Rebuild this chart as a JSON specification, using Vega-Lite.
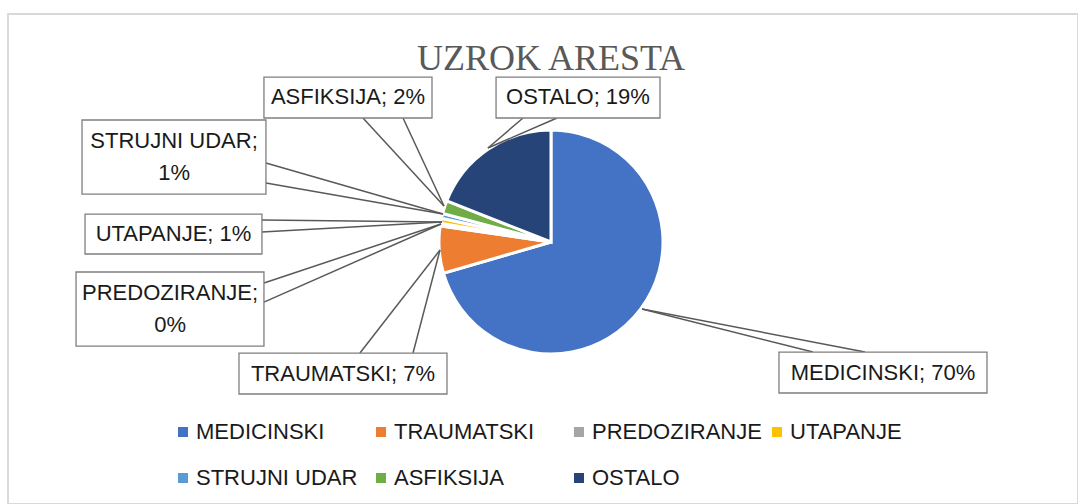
{
  "$schema": "https://vega.github.io/schema/vega-lite/v6.json",
  "width": 1070,
  "height": 490,
  "autosize": {"type": "none"},
  "padding": {"left": 8, "top": 14, "right": 0, "bottom": 0},
  "background": "white",
  "config": {"view": {"stroke": "#d9d9d9", "strokeWidth": 2}},
  "title": {
    "text": "UZROK ARESTA",
    "font": "Liberation Serif",
    "fontSize": 36,
    "fontWeight": "normal",
    "color": "#595959",
    "anchor": "middle",
    "baseline": "alphabetic",
    "offset": -92,
    "dx": 8
  },
  "datasets": {
    "causes": [
      {"k": 1, "cause": "MEDICINSKI", "share": 70.5},
      {"k": 2, "cause": "TRAUMATSKI", "share": 6.8},
      {"k": 3, "cause": "PREDOZIRANJE", "share": 0.4},
      {"k": 4, "cause": "UTAPANJE", "share": 0.7},
      {"k": 5, "cause": "STRUJNI UDAR", "share": 0.7},
      {"k": 6, "cause": "ASFIKSIJA", "share": 1.9},
      {"k": 7, "cause": "OSTALO", "share": 19.0}
    ],
    "labels": [
      {"label": "ASFIKSIJA; 2%", "bx1": -2.586, "bx2": -1.072, "by1": 1.486, "by2": 1.117, "tx": -1.829, "ty": 1.302},
      {"label": "OSTALO; 19%", "bx1": -0.495, "bx2": 0.982, "by1": 1.486, "by2": 1.117, "tx": 0.243, "ty": 1.302},
      {"label": "STRUJNI UDAR;\n1%", "bx1": -4.225, "bx2": -2.568, "by1": 1.099, "by2": 0.432, "tx": -3.396, "ty": 0.91},
      {"label": "UTAPANJE; 1%", "bx1": -4.198, "bx2": -2.604, "by1": 0.252, "by2": -0.108, "tx": -3.401, "ty": 0.072},
      {"label": "PREDOZIRANJE;\n0%", "bx1": -4.279, "bx2": -2.586, "by1": -0.270, "by2": -0.937, "tx": -3.432, "ty": -0.46},
      {"label": "TRAUMATSKI; 7%", "bx1": -2.811, "bx2": -0.937, "by1": -1.000, "by2": -1.369, "tx": -1.874, "ty": -1.185},
      {"label": "MEDICINSKI; 70%", "bx1": 2.054, "bx2": 3.928, "by1": -0.991, "by2": -1.360, "tx": 2.991, "ty": -1.176}
    ],
    "leaders": [
      {"cause": "ASFIKSIJA", "u1": -1.694, "v1": 1.117, "u2": -0.964, "v2": 0.324},
      {"cause": "ASFIKSIJA", "u1": -1.333, "v1": 1.117, "u2": -0.964, "v2": 0.324},
      {"cause": "OSTALO", "u1": -0.252, "v1": 1.117, "u2": -0.568, "v2": 0.847},
      {"cause": "OSTALO", "u1": 0.054, "v1": 1.117, "u2": -0.568, "v2": 0.847},
      {"cause": "STRUJNI UDAR", "u1": -2.568, "v1": 0.712, "u2": -0.973, "v2": 0.252},
      {"cause": "STRUJNI UDAR", "u1": -2.568, "v1": 0.532, "u2": -0.973, "v2": 0.252},
      {"cause": "UTAPANJE", "u1": -2.604, "v1": 0.198, "u2": -0.982, "v2": 0.180},
      {"cause": "UTAPANJE", "u1": -2.604, "v1": 0.090, "u2": -0.982, "v2": 0.180},
      {"cause": "PREDOZIRANJE", "u1": -2.586, "v1": -0.369, "u2": -0.991, "v2": 0.162},
      {"cause": "PREDOZIRANJE", "u1": -2.586, "v1": -0.541, "u2": -0.991, "v2": 0.162},
      {"cause": "TRAUMATSKI", "u1": -1.721, "v1": -1.000, "u2": -1.000, "v2": -0.072},
      {"cause": "TRAUMATSKI", "u1": -1.243, "v1": -1.000, "u2": -1.000, "v2": -0.072},
      {"cause": "MEDICINSKI", "u1": 2.360, "v1": -0.991, "u2": 0.820, "v2": -0.604},
      {"cause": "MEDICINSKI", "u1": 2.829, "v1": -0.991, "u2": 0.820, "v2": -0.604}
    ]
  },
  "layer": [
    {
      "data": {"name": "causes"},
      "mark": {"type": "arc", "outerRadius": 112, "stroke": "white", "strokeWidth": 3},
      "encoding": {
        "x": {"datum": 0, "type": "quantitative", "scale": {"domain": [-4.892, 4.748], "nice": false, "zero": false}, "axis": null},
        "y": {"datum": 0, "type": "quantitative", "scale": {"domain": [-2.36, 2.054], "nice": false, "zero": false}, "axis": null},
        "theta": {"field": "share", "type": "quantitative", "stack": true},
        "order": {"field": "k", "type": "quantitative"},
        "color": {
          "field": "cause",
          "type": "nominal",
          "scale": {
            "domain": ["MEDICINSKI", "TRAUMATSKI", "PREDOZIRANJE", "UTAPANJE", "STRUJNI UDAR", "ASFIKSIJA", "OSTALO"],
            "range": ["#4472C4", "#ED7D31", "#A5A5A5", "#FFC000", "#5B9BD5", "#70AD47", "#264478"]
          },
          "legend": {
            "orient": "none",
            "legendX": 164,
            "legendY": 407,
            "direction": "horizontal",
            "columns": 4,
            "gridAlign": "all",
            "title": null,
            "padding": 0,
            "symbolType": "square",
            "symbolSize": 100,
            "symbolStrokeWidth": 0,
            "labelFont": "Liberation Sans",
            "labelFontSize": 22,
            "labelColor": "#1a1a1a",
            "labelLimit": 400,
            "labelOffset": 2,
            "columnPadding": 4,
            "rowPadding": 24
          }
        }
      }
    },
    {
      "data": {"name": "leaders"},
      "mark": {"type": "rule", "color": "#595959", "strokeWidth": 1.5},
      "encoding": {
        "x": {"field": "u1", "type": "quantitative"},
        "y": {"field": "v1", "type": "quantitative"},
        "x2": {"field": "u2"},
        "y2": {"field": "v2"}
      }
    },
    {
      "data": {"name": "labels"},
      "mark": {"type": "rect", "fill": "white", "stroke": "#7f7f7f", "strokeWidth": 1.3},
      "encoding": {
        "x": {"field": "bx1", "type": "quantitative"},
        "x2": {"field": "bx2"},
        "y": {"field": "by1", "type": "quantitative"},
        "y2": {"field": "by2"}
      }
    },
    {
      "data": {"name": "labels"},
      "mark": {"type": "text", "font": "Liberation Sans", "fontSize": 22, "color": "#1a1a1a", "align": "center", "baseline": "middle", "lineBreak": "\n", "lineHeight": 32},
      "encoding": {
        "x": {"field": "tx", "type": "quantitative"},
        "y": {"field": "ty", "type": "quantitative"},
        "text": {"field": "label", "type": "nominal"}
      }
    }
  ]
}
